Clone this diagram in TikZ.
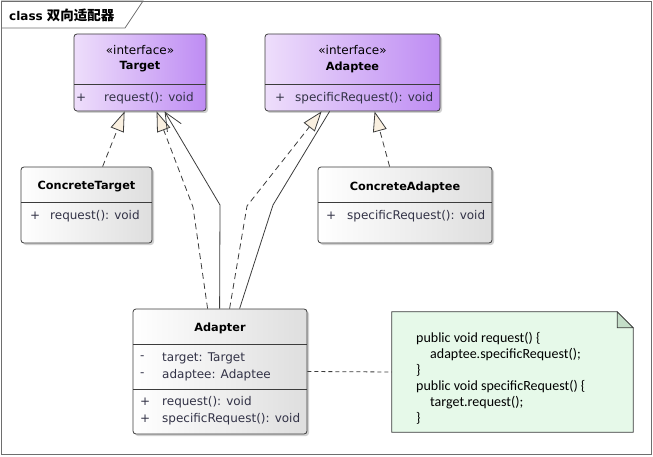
\documentclass[tikz,border=0pt]{standalone}
\usepackage{fontspec}
\setmainfont{DejaVu Sans}
\newfontfamily\notefont{Carlito}
\newfontfamily\cjk{Noto Sans CJK SC}
\usetikzlibrary{arrows.meta}
\usetikzlibrary{shadows, backgrounds}

\definecolor{ifaceL}{RGB}{238,222,251}
\definecolor{ifaceR}{RGB}{190,140,243}
\definecolor{classR}{RGB}{222,222,222}
\definecolor{lineclr}{RGB}{60,60,60}
\definecolor{frameclr}{RGB}{110,110,110}
\definecolor{headfill}{RGB}{250,240,224}
\definecolor{notefill}{RGB}{230,249,233}
\definecolor{foldfill}{RGB}{196,222,200}
\definecolor{membertext}{RGB}{50,50,70}

\tikzset{
  box/.style={draw=lineclr, rounded corners=3pt, inner sep=0pt, line width=0.8pt,
    drop shadow={shadow xshift=2pt,shadow yshift=-2pt,opacity=0.3,fill=black!60}},
  ifacebox/.style={box, left color=ifaceL, right color=ifaceR},
  classbox/.style={box, left color=white, right color=classR},
  stereo/.style={font=\fontsize{12}{14}\selectfont, text=black, inner sep=0pt},
  title/.style={font=\fontsize{11.3}{13}\selectfont\bfseries, text=black, inner sep=0pt},
  member/.style={font=\fontsize{12}{14}\selectfont, text=membertext, anchor=west, inner sep=0pt},
  realize/.style={draw=lineclr, line width=0.8pt, dash pattern=on 6pt off 4pt,
    -{Triangle[length=20pt,width=14pt,fill=headfill]}},
  assoc/.style={draw=lineclr, line width=0.8pt},
}

\begin{document}
\begin{tikzpicture}[x=1pt,y=-1pt]
\useasboundingbox (0,0) rectangle (653,457);
% frame and name tab
\draw[frameclr, line width=0.8pt] (1,1) rectangle (651,454);
\draw[frameclr, line width=0.8pt] (1,1) -- (143,1) -- (125,28) -- (1,28);
\node[anchor=west, inner sep=0pt] (framename) at (9,15)
  {\fontsize{12}{14}\selectfont\bfseries class {\cjk\fontsize{13.5}{15}\selectfont\bfseries 双向适配器}};

% interfaces
\node[ifacebox, minimum width=132pt, minimum height=77pt] (target) at (140,72.5) {};
\draw[lineclr, line width=0.8pt] (74,84) -- (206,84);
\node[stereo] (tstereo) at (140,50) {«interface»};
\node[title] (tname) at (140,67) {Target};
\node[member] (tplus) at (76,98) {+};
\node[member] (top) at (104,98) {request(): void};

\node[ifacebox, minimum width=175pt, minimum height=77pt] (adaptee) at (352.5,72.5) {};
\draw[lineclr, line width=0.8pt] (265,84) -- (440,84);
\node[stereo] (astereo) at (352.5,50) {«interface»};
\node[title] (aname) at (352.5,67) {Adaptee};
\node[member] (aplus) at (275,98) {+};
\node[member] (aop) at (295,98) {specificRequest(): void};

% concrete classes
\node[classbox, minimum width=131pt, minimum height=76pt] (ct) at (86.5,205) {};
\draw[lineclr, line width=0.8pt] (21,202) -- (152,202);
\node[title] (ctname) at (86.5,187) {ConcreteTarget};
\node[member] (ctplus) at (30,216) {+};
\node[member] (ctop) at (50,216) {request(): void};

\node[classbox, minimum width=174pt, minimum height=76pt] (ca) at (405,205) {};
\draw[lineclr, line width=0.8pt] (318,202) -- (492,202);
\node[title] (caname) at (405,187) {ConcreteAdaptee};
\node[member] (caplus) at (326,216) {+};
\node[member] (caop) at (347,216) {specificRequest(): void};

% adapter
\node[classbox, minimum width=174pt, minimum height=125pt] (adapter) at (220,371.5) {};
\draw[lineclr, line width=0.8pt] (133,344) -- (307,344);
\draw[lineclr, line width=0.8pt] (133,389) -- (307,389);
\node[title] (adname) at (220,328) {Adapter};
\node[member] (adm1) at (140,358) {-};
\node[member] (ada1) at (162,358) {target: Target};
\node[member] (adm2) at (140,375) {-};
\node[member] (ada2) at (162,375) {adaptee: Adaptee};
\node[member] (adp1) at (140,402) {+};
\node[member] (ado1) at (162,402) {request(): void};
\node[member] (adp2) at (140,419) {+};
\node[member] (ado2) at (162,419) {specificRequest(): void};

% note
\node[minimum width=241pt, minimum height=120pt, inner sep=0pt] (note) at (512.5,372) {};
\begin{scope}[on background layer]
\fill[black!60, opacity=0.3, shift={(2,2)}] (note.north west) -- ([xshift=-16pt]note.north east)
  -- ([yshift=-16pt]note.north east) -- (note.south east) -- (note.south west) -- cycle;
\draw[lineclr, line width=0.8pt, fill=notefill] (note.north west) -- ([xshift=-16pt]note.north east)
  -- ([yshift=-16pt]note.north east) -- (note.south east) -- (note.south west) -- cycle;
\draw[lineclr, line width=0.8pt, fill=foldfill] ([xshift=-16pt]note.north east)
  -- ([xshift=-16pt,yshift=-16pt]note.north east) -- ([yshift=-16pt]note.north east) -- cycle;
\end{scope}
\node[font=\notefont\fontsize{14}{16}\selectfont, align=left, inner sep=0pt, anchor=north west] (notetext) at (416,332)
  {public void request() \{\\
   \hspace*{14pt}adaptee.specificRequest();\\
   \}\\
   public void specificRequest() \{\\
   \hspace*{14pt}target.request();\\
   \}};

% relations
\draw[realize] ([xshift=82pt]ct.north west) -- ([xshift=51pt]target.south west);
\draw[realize] ([xshift=72pt]ca.north west) -- ([xshift=110pt]adaptee.south west);
\draw[realize] ([xshift=75pt]adapter.north west) -- (193,207) -- ([xshift=83pt]target.south west);
\draw[assoc, -{Straight Barb[length=18pt,width=16pt]}] ([xshift=87pt]adapter.north west) -- (220,205) -- ([xshift=91pt]target.south west);
\draw[realize] ([xshift=97pt]adapter.north west) -- (247,206) -- ([xshift=57pt]adaptee.south west);
\draw[assoc] ([xshift=107pt]adapter.north west) -- (273,205) -- ([xshift=65pt]adaptee.south west);
\draw[lineclr, line width=0.8pt, dash pattern=on 4pt off 3pt] (adapter.east) -- (note.west);

\end{tikzpicture}
\end{document}
